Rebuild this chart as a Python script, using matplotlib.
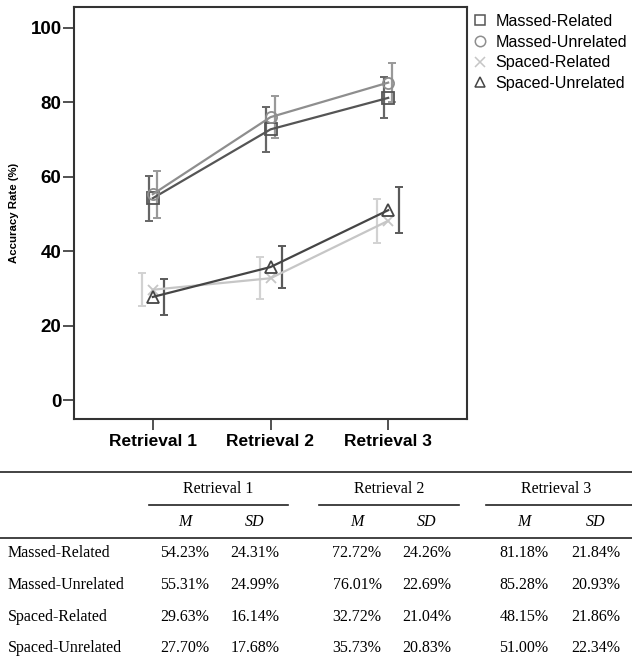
import matplotlib.pyplot as plt
from matplotlib.lines import Line2D

retrievals = ["Retrieval 1", "Retrieval 2", "Retrieval 3"]
conditions = ["Massed-Related", "Massed-Unrelated", "Spaced-Related", "Spaced-Unrelated"]

# means (%) and SDs (%) from the table
mr_m = [54.23, 72.72, 81.18]
mu_m = [55.31, 76.01, 85.28]
sr_m = [29.63, 32.72, 48.15]
su_m = [27.70, 35.73, 51.00]

mr_sd = [24.31, 24.26, 21.84]
mu_sd = [24.99, 22.69, 20.93]
sr_sd = [16.14, 21.04, 21.86]
su_sd = [17.68, 20.83, 22.34]

# error bar half widths
mr_ci = [6.0, 6.05, 5.5]
mu_ci = [6.3, 5.7, 5.3]
sr_ci = [4.4, 5.7, 5.9]
su_ci = [4.8, 5.6, 6.2]

means = [mr_m, mu_m, sr_m, su_m]
sds = [mr_sd, mu_sd, sr_sd, su_sd]
cis = [mr_ci, mu_ci, sr_ci, su_ci]

line_col = ["#555555", "#8e8e8e", "#c6c6c6", "#454545"]
bar_col = ["#666666", "#999999", "#d2d2d2", "#5a5a5a"]
markers = ["s", "o", "x", "^"]
dodge = [-0.034, 0.034, -0.092, 0.094]

W, H = 632, 660
fig = plt.figure(figsize=(W / 100, H / 100), dpi=100)
ax = fig.add_axes([74 / W, 1 - 419 / H, 393 / W, 412 / H])

x = [0, 1, 2]
for i in range(4):
    xe = [v + dodge[i] for v in x]
    ax.errorbar(xe, means[i], yerr=cis[i], fmt="none", ecolor=bar_col[i],
                elinewidth=1.6, capsize=3.2, capthick=1.4, zorder=2)
for i in range(4):
    ax.plot(x, means[i], color=line_col[i], lw=1.6, marker=markers[i],
            markersize=8 if markers[i] != "x" else 7, markerfacecolor="none",
            markeredgecolor=line_col[i], markeredgewidth=1.3, zorder=3)

ax.set_xlim(-0.67, 2.67)
ax.set_ylim(-5.1, 105.6)
ax.set_yticks([0, 20, 40, 60, 80, 100])
ax.set_xticks(x)
ax.set_xticklabels(retrievals, fontsize=12.5, fontweight="bold", family="Liberation Sans")
for t in ax.get_yticklabels():
    t.set_fontsize(13.5)
    t.set_fontweight("bold")
    t.set_family("Liberation Sans")
ax.tick_params(axis="y", length=8, width=1.2, color="#333333", pad=1)
ax.tick_params(axis="x", length=8, width=1.2, color="#333333", pad=3)
for s in ax.spines.values():
    s.set_linewidth(1.5)
    s.set_color("#333333")
ax.set_ylabel("Accuracy Rate (%)", fontsize=8.2, fontweight="bold", family="Liberation Sans", labelpad=8)

handles = [Line2D([], [], ls="none", marker=markers[i], markersize=7.5 if markers[i] != "x" else 6.5,
                  markerfacecolor="none", markeredgecolor=line_col[i], markeredgewidth=1.1)
           for i in range(4)]
fig.legend(handles, conditions, loc="upper left", bbox_to_anchor=(472 / W, 1 - 14 / H),
           frameon=False, prop={"family": "Liberation Sans", "size": 11.6},
           handlelength=1.0, handletextpad=0.45, labelspacing=0.35, borderpad=0, borderaxespad=0)


# table below the chart
def fx(px):
    return px / W


def fy(py):
    return 1 - py / H


serif = "Liberation Serif"
tsize = 11.5
fig.add_artist(Line2D([0, 1], [fy(472), fy(472)], color="#222222", lw=1.2))
fig.add_artist(Line2D([0, 1], [fy(538), fy(538)], color="#222222", lw=1.2))

group_c = [218, 389, 556]
group_l = [(149, 288), (319, 459), (486, 632)]
m_x = [185, 357, 524]
sd_x = [255, 427, 596]
for j in range(3):
    fig.text(fx(group_c[j]), fy(489), retrievals[j], ha="center", va="center", family=serif, size=tsize)
    fig.add_artist(Line2D([fx(group_l[j][0]), fx(group_l[j][1])], [fy(505), fy(505)], color="#222222", lw=1.2))
    fig.text(fx(m_x[j]), fy(522), "M", ha="center", va="center", family=serif, size=tsize, style="italic")
    fig.text(fx(sd_x[j]), fy(522), "SD", ha="center", va="center", family=serif, size=tsize, style="italic")

row_y = [553, 585, 617, 648]
for i in range(4):
    fig.text(fx(8), fy(row_y[i]), conditions[i], ha="left", va="center", family=serif, size=tsize)
    for j in range(3):
        fig.text(fx(m_x[j]), fy(row_y[i]), "%.2f%%" % means[i][j], ha="center", va="center", family=serif, size=tsize)
        fig.text(fx(sd_x[j]), fy(row_y[i]), "%.2f%%" % sds[i][j], ha="center", va="center", family=serif, size=tsize)

fig.savefig("out.png", dpi=100)
